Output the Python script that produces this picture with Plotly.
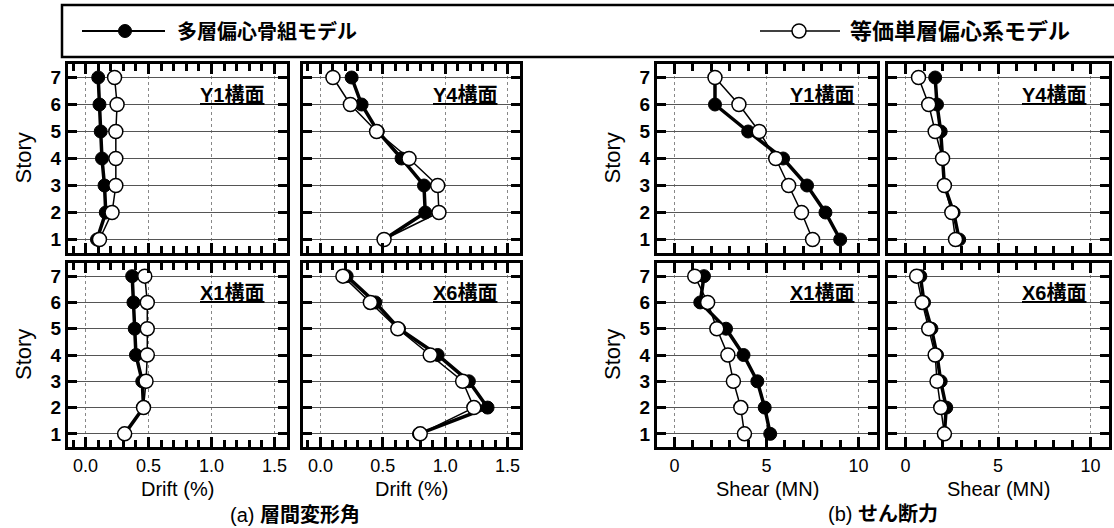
import plotly.graph_objects as go

# Story levels
stories = [1, 2, 3, 4, 5, 6, 7]

# Inter-story drift (%) : multi-story eccentric frame model (filled) / equivalent single-story model (open)
drift_y1_multi = [0.09, 0.16, 0.15, 0.13, 0.12, 0.11, 0.10]
drift_y1_single = [0.11, 0.21, 0.24, 0.24, 0.24, 0.25, 0.23]
drift_y4_multi = [0.51, 0.84, 0.83, 0.65, 0.46, 0.33, 0.25]
drift_y4_single = [0.51, 0.95, 0.94, 0.71, 0.45, 0.24, 0.10]
drift_x1_multi = [0.31, 0.46, 0.45, 0.40, 0.39, 0.38, 0.37]
drift_x1_single = [0.31, 0.46, 0.48, 0.49, 0.49, 0.49, 0.47]
drift_x6_multi = [0.79, 1.34, 1.19, 0.94, 0.63, 0.44, 0.21]
drift_x6_single = [0.80, 1.23, 1.14, 0.88, 0.62, 0.40, 0.18]

# Story shear (MN)
shear_y1_multi = [9.0, 8.2, 7.2, 5.9, 4.0, 2.2, 2.2]
shear_y1_single = [7.5, 6.9, 6.2, 5.5, 4.6, 3.5, 2.2]
shear_y4_multi = [2.9, 2.6, 2.1, 2.0, 1.9, 1.7, 1.6]
shear_y4_single = [2.7, 2.5, 2.1, 2.0, 1.6, 1.25, 0.7]
shear_x1_multi = [5.2, 4.9, 4.5, 3.75, 2.8, 1.4, 1.6]
shear_x1_single = [3.8, 3.6, 3.2, 2.9, 2.3, 1.8, 1.1]
shear_x6_multi = [2.1, 2.2, 1.9, 1.7, 1.4, 1.0, 0.8]
shear_x6_single = [2.1, 1.9, 1.7, 1.6, 1.25, 0.9, 0.6]

frame_labels = ["Y1構面", "Y4構面", "Y1構面", "Y4構面",
                "X1構面", "X6構面", "X1構面", "X6構面"]
series_multi = [drift_y1_multi, drift_y4_multi, shear_y1_multi, shear_y4_multi,
                drift_x1_multi, drift_x6_multi, shear_x1_multi, shear_x6_multi]
series_single = [drift_y1_single, drift_y4_single, shear_y1_single, shear_y4_single,
                 drift_x1_single, drift_x6_single, shear_x1_single, shear_x6_single]
kinds = ["drift", "drift", "shear", "shear", "drift", "drift", "shear", "shear"]
x_titles = {"drift": "Drift (%)", "shear": "Shear (MN)"}

W, H = 1114, 528
col_px = [(68, 287), (303, 520), (657, 877), (888, 1109)]
row_px = [(64, 253), (263, 447)]

LATIN = "Liberation Sans, Arial, sans-serif"
CJK = "Liberation Sans, Noto Sans CJK JP, sans-serif"


def px_x(v):
    return v / W


def px_y(v):
    return 1 - v / H


fig = go.Figure()
layout = {}

for i in range(8):
    r, c = divmod(i, 4)
    n = i + 1
    xa = "x" if n == 1 else f"x{n}"
    ya = "y" if n == 1 else f"y{n}"

    fig.add_trace(go.Scatter(
        x=series_multi[i], y=stories, xaxis=xa, yaxis=ya, mode="lines+markers",
        line=dict(color="black", width=3.5),
        marker=dict(symbol="circle", size=13, color="black", line=dict(color="black", width=1)),
        showlegend=False, cliponaxis=False))
    fig.add_trace(go.Scatter(
        x=series_single[i], y=stories, xaxis=xa, yaxis=ya, mode="lines+markers",
        line=dict(color="black", width=1.5),
        marker=dict(symbol="circle", size=14, color="white", line=dict(color="black", width=1.5)),
        showlegend=False, cliponaxis=False))

    x0, x1 = col_px[c]
    y0, y1 = row_px[r]
    common = dict(showline=True, linewidth=3, linecolor="black", mirror="allticks",
                  ticks="inside", tickwidth=3, tickcolor="black", zeroline=False,
                  showgrid=True, gridwidth=1, fixedrange=True)
    if kinds[i] == "drift":
        xcfg = dict(range=[-0.14, 1.6], tickvals=[0, 0.5, 1.0, 1.5], tickformat=".1f",
                    ticklen=10,
                    minor=dict(ticks="inside", dtick=0.1, tick0=0, ticklen=7, tickwidth=2.5,
                               tickcolor="black", showgrid=False))
    else:
        xcfg = dict(range=[-0.95, 11], tickvals=[0, 5, 10], ticklen=10,
                    minor=dict(ticks="inside", dtick=1, tick0=0, ticklen=7, tickwidth=2.5,
                               tickcolor="black", showgrid=False))
    xcfg.update(common)
    xcfg.update(domain=[px_x(x0), px_x(x1)], anchor=ya, gridcolor="#888", griddash="dot",
                showticklabels=(r == 1),
                tickfont=dict(family=LATIN, size=18, color="black"))
    ycfg = dict(common)
    ycfg.update(range=[0.5, 7.5], tickvals=stories, ticklen=9,
                domain=[px_y(y1), px_y(y0)], anchor=xa, gridcolor="#555",
                showticklabels=(c in (0, 2)),
                tickfont=dict(family=LATIN, size=19, color="black", weight="bold"))
    layout["xaxis" if n == 1 else f"xaxis{n}"] = xcfg
    layout["yaxis" if n == 1 else f"yaxis{n}"] = ycfg

    # frame name inside each panel
    fig.add_annotation(
        text=f"<u>{frame_labels[i]}</u>", xref=f"{xa} domain", yref=f"{ya} domain",
        x=0.905, y=0.835, xanchor="right", yanchor="middle", showarrow=False,
        font=dict(family=CJK, size=20, color="black", weight="bold"))

    # axis titles
    if r == 1:
        fig.add_annotation(text=x_titles[kinds[i]], xref="paper", yref="paper",
                           x=px_x((x0 + x1) / 2), y=px_y(489), xanchor="center",
                           yanchor="middle", showarrow=False,
                           font=dict(family=LATIN, size=20, color="black"))
    if c in (0, 2):
        fig.add_annotation(text="Story", xref="paper", yref="paper", textangle=-90,
                           x=px_x(x0 - 45), y=px_y((y0 + y1) / 2), xanchor="center",
                           yanchor="middle", showarrow=False,
                           font=dict(family=LATIN, size=22, color="black"))

fig.update_layout(**layout)

# Legend frame and keys
shapes = [
    dict(type="rect", xref="paper", yref="paper", x0=px_x(62), x1=1.01,
         y0=px_y(57), y1=px_y(5), line=dict(color="black", width=2.5)),
    dict(type="line", xref="paper", yref="paper", x0=px_x(82), x1=px_x(165),
         y0=px_y(31), y1=px_y(31), line=dict(color="black", width=2)),
    dict(type="circle", xref="paper", yref="paper", xsizemode="pixel", ysizemode="pixel",
         xanchor=px_x(125), yanchor=px_y(31), x0=-6.5, x1=6.5, y0=-6.5, y1=6.5,
         fillcolor="black", line=dict(color="black", width=1)),
    dict(type="line", xref="paper", yref="paper", x0=px_x(760), x1=px_x(840),
         y0=px_y(31), y1=px_y(31), line=dict(color="black", width=1.5)),
    dict(type="circle", xref="paper", yref="paper", xsizemode="pixel", ysizemode="pixel",
         xanchor=px_x(799), yanchor=px_y(31), x0=-7, x1=7, y0=-7, y1=7,
         fillcolor="white", line=dict(color="black", width=1.5)),
]
fig.update_layout(shapes=shapes)

fig.add_annotation(text="<b>多層偏心骨組モデル</b>", xref="paper", yref="paper",
                   x=px_x(175), y=px_y(31), xanchor="left", yanchor="middle", showarrow=False,
                   font=dict(family=CJK, size=20, color="black"))
fig.add_annotation(text="<b>等価単層偏心系モデル</b>", xref="paper", yref="paper",
                   x=px_x(848), y=px_y(31), xanchor="left", yanchor="middle", showarrow=False,
                   font=dict(family=CJK, size=22, color="black"))

# Sub-figure captions
fig.add_annotation(text="(a) <b>層間変形角</b>", xref="paper", yref="paper",
                   x=px_x(295), y=px_y(514), xanchor="center", yanchor="middle",
                   showarrow=False, font=dict(family=CJK, size=20, color="black"))
fig.add_annotation(text="(b) <b>せん断力</b>", xref="paper", yref="paper",
                   x=px_x(883), y=px_y(514), xanchor="center", yanchor="middle",
                   showarrow=False, font=dict(family=CJK, size=20, color="black"))

fig.update_layout(width=W, height=H, margin=dict(l=0, r=0, t=0, b=0),
                  paper_bgcolor="white", plot_bgcolor="white", showlegend=False)

fig.write_html("out.html")
